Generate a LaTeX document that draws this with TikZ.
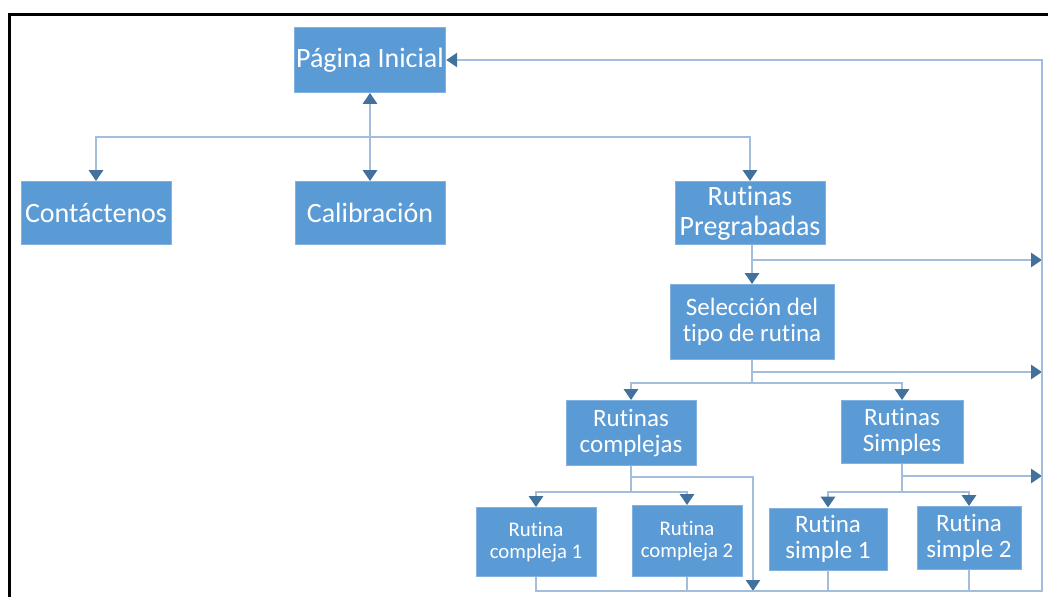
\documentclass[tikz,border=0pt]{standalone}
\usepackage{fontspec}
\setmainfont{Carlito}[Ligatures=NoCommon]
\usetikzlibrary{arrows.meta}
\definecolor{boxfill}{HTML}{5B9BD5}
\definecolor{boxedge}{HTML}{82B2E0}
\definecolor{linec}{HTML}{A3BEDC}
\definecolor{tipc}{HTML}{41719C}
\tikzset{
  box/.style={fill=boxfill, draw=boxedge, line width=0.4pt, text=white,
    align=center, inner sep=1pt},
  big/.style={box, font=\fontsize{14}{15}\selectfont},
  mid/.style={box, font=\fontsize{12.5}{12.8}\selectfont},
  leafc/.style={box, font=\fontsize{10.4}{11}\selectfont},
  leafs/.style={box, font=\fontsize{12.5}{12.8}\selectfont},
  link/.style={draw=linec, line width=1.4pt},
  arr/.style={link, -{Triangle[width=7pt,length=5.5pt,color=tipc]}},
}
\begin{document}
\begin{tikzpicture}[x=0.5pt, y=-0.5pt]
\useasboundingbox (0,0) rectangle (1048,597);
% outer frame (top and left edges)
\draw[black, line width=1.1pt] (9.5,597) -- (9.5,14.5) -- (1048,14.5);

% nodes
\node[big, minimum width=75pt, minimum height=32.5pt] (pag) at (370,60) {Página Inicial};
\node[big, minimum width=75pt, minimum height=31.5pt] (cont) at (96,213) {Contáctenos};
\node[big, minimum width=75pt, minimum height=31.5pt] (cal) at (370,213) {Calibración};
\node[big, minimum width=75pt, minimum height=31.5pt] (rp) at (750,213) {Rutinas\\Pregrabadas};
\node[mid, minimum width=82pt, minimum height=37.5pt] (sel) at (752,322) {Selección del\\tipo de rutina};
\node[mid, minimum width=65pt, minimum height=32.5pt] (rc) at (631,433) {Rutinas\\complejas};
\node[mid, minimum width=61pt, minimum height=31.5pt] (rs) at (902,432) {Rutinas\\Simples};
\node[leafc, minimum width=60pt, minimum height=34.5pt] (c1) at (536,542) {Rutina\\compleja 1};
\node[leafc, minimum width=55pt, minimum height=35.5pt] (c2) at (687,541) {Rutina\\compleja 2};
\node[leafs, minimum width=59pt, minimum height=31pt] (s1) at (828,539) {Rutina\\simple 1};
\node[leafs, minimum width=52pt, minimum height=31.5pt] (s2) at (969,538) {Rutina\\simple 2};

% junction points
\coordinate (rx) at (1042,0);
\coordinate (bl) at (0,591);
\coordinate (busA) at (370,137);
\coordinate (j1) at (752,260);
\coordinate (j2) at (752,372);
\coordinate (busB) at (752,383);
\coordinate (rcj) at (631,477);
\coordinate (rcb) at (631,492);
\coordinate (rcd) at (753,591);
\coordinate (rsj) at (902,476);
\coordinate (rsb) at (902,492);

% home page and first level
\draw[arr] (busA) -- (pag.south);
\draw[arr] (busA) -| (cont.north);
\draw[arr] (busA) -- (cal.north);
\draw[arr] (busA) -| (rp.north);

% recorded routines
\draw[arr] (rp.south -| sel.north) -- (sel.north);
\draw[arr] (j1) -- (j1 -| rx);
\draw[link] (sel.south) -- (busB);
\draw[arr] (j2) -- (j2 -| rx);
\draw[arr] (busB) -| (rc.north);
\draw[arr] (busB) -| (rs.north);

% complex routines
\draw[link] (rc.south) -- (rcb);
\draw[arr] (rcb) -| (c1.north);
\draw[arr] (rcb) -| (c2.north);
\draw[arr] (rcj) -| (rcd);

% simple routines
\draw[link] (rs.south) -- (rsb);
\draw[arr] (rsb) -| (s1.north);
\draw[arr] (rsb) -| (s2.north);
\draw[arr] (rsj) -- (rsj -| rx);

% return path to the home page
\draw[link] (c2.south) -- (c2.south |- bl);
\draw[link] (s1.south) -- (s1.south |- bl);
\draw[link] (s2.south) -- (s2.south |- bl);
\draw[arr] (c1.south) |- (bl -| rx) -- (pag.east -| rx) -- (pag.east);
\end{tikzpicture}
\end{document}
